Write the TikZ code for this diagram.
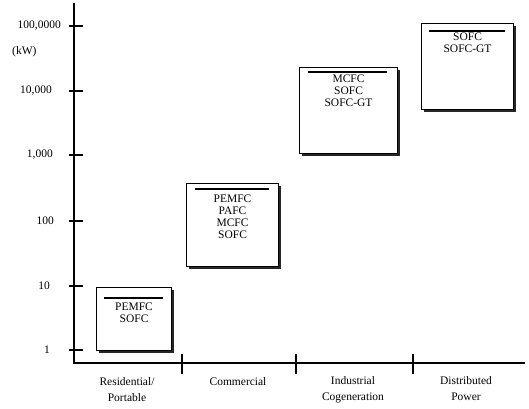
\documentclass[tikz,border=0pt]{standalone}
\usepackage{fontspec}
\setmainfont{Liberation Serif}
\usetikzlibrary{positioning, shadows}

\begin{document}
\begin{tikzpicture}[
        x=1pt, y=-1pt,
        axis/.style={line width=2.2pt},
        tickmark/.style={line width=1.6pt},
        fcbox/.style={draw, line width=1.1pt, fill=white, anchor=north west, inner sep=0pt,
            drop shadow={shadow xshift=2.2pt, shadow yshift=-2.2pt, fill=black!85, opacity=1}},
        bar/.style={line width=1.8pt},
        fclist/.style={font=\fontsize{11.5}{12}\selectfont, align=center, inner sep=0pt},
        ylbl/.style={font=\fontsize{11.5}{12}\selectfont, anchor=east, inner sep=0pt},
        xlbl/.style={font=\fontsize{11.5}{16}\selectfont, align=center, inner sep=0pt},
    ]
    \useasboundingbox (0,0) rectangle (529,408);

    % ---- AXES ----
    \coordinate (ytop) at (74,3);
    \coordinate (origin) at (74,363);
    \coordinate (xend) at (525,363);
    \draw[axis] (ytop) -- (origin) -- (xend);

    % ---- POWER SCALE ----
    \foreach \y/\lx/\lab/\nm in {26/61/{100,0000}/p6, 91/52/{10,000}/p4, 155/53/{1,000}/p3,
                                221/54/{100}/p2, 286/50/{10}/p1, 350/50/{1}/p0} {
        \draw[tickmark] (69,\y) -- (83,\y);
        \node[ylbl] (\nm) at (\lx,\y) {\lab};
    }
    \node[ylbl, anchor=west] (unit) at (12,52) {(kW)};

    % ---- MARKET SEGMENTS ----
    \foreach \x in {182,296,413}
        \draw[tickmark] (\x,354) -- (\x,374);
    \node[xlbl] (resLbl) at (127,390) {Residential/\\Portable};
    \node[xlbl] (comLbl) at (238,382) {Commercial};
    \node[xlbl] (indLbl) at (353,390) {Industrial\\Cogeneration};
    \node[xlbl] (distLbl) at (466,389) {Distributed\\Power};

    % ---- FUEL CELL RANGES ----
    \node[fcbox, minimum width=75pt, minimum height=63pt] (res) at (96,287) {};
    \node[fcbox, minimum width=92pt, minimum height=83pt] (com) at (186,183) {};
    \node[fcbox, minimum width=98pt, minimum height=86pt] (ind) at (299,67) {};
    \node[fcbox, minimum width=92pt, minimum height=86pt] (dist) at (421,23) {};

    \draw[bar] ([xshift=8pt,yshift=-11pt]res.north west) -- ([xshift=-9pt,yshift=-11pt]res.north east);
    \draw[bar] ([xshift=9pt,yshift=-6pt]com.north west) -- ([xshift=-10pt,yshift=-6pt]com.north east);
    \draw[bar] ([xshift=9pt,yshift=-5pt]ind.north west) -- ([xshift=-11pt,yshift=-5pt]ind.north east);
    \draw[bar] ([xshift=8pt,yshift=-8pt]dist.north west) -- ([xshift=-9pt,yshift=-8pt]dist.north east);

    \node[fclist, below=16pt of res.north] (resList) {PEMFC\\SOFC};
    \node[fclist, below=12pt of com.north] (comList) {PEMFC\\PAFC\\MCFC\\SOFC};
    \node[fclist, below=8pt of ind.north] (indList) {MCFC\\SOFC\\SOFC-GT};
    \node[fclist, below=10pt of dist.north] (distList) {SOFC\\SOFC-GT};

\end{tikzpicture}
\end{document}
